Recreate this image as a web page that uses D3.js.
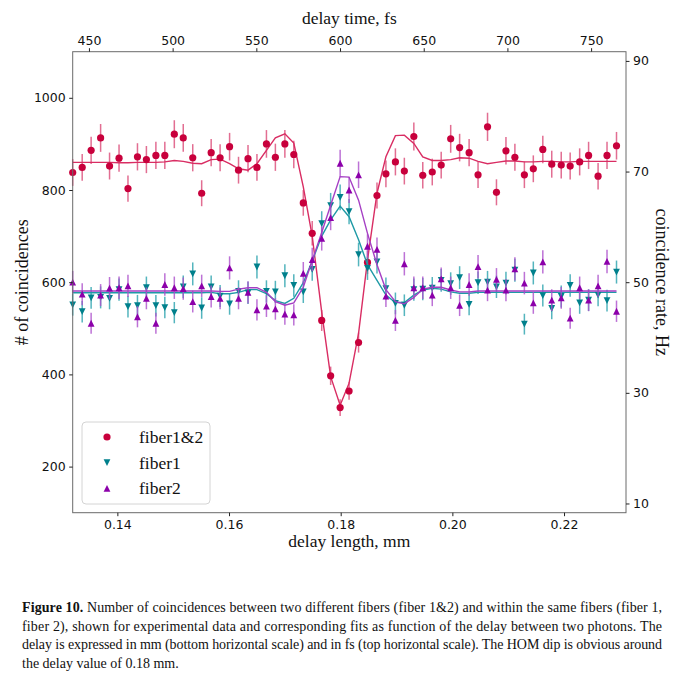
<!DOCTYPE html>
<html>
<head>
<meta charset="utf-8">
<script src="https://cdn.jsdelivr.net/npm/d3@7"></script>
<style>
body { margin: 0; background: #fff; }
svg text { fill: #111; }
</style>
</head>
<body>
<div id="chart"></div>
<script>
// delay length in mm (bottom axis)
const delayMm = [0.1320, 0.1337, 0.1353, 0.1370, 0.1386, 0.1403, 0.1419, 0.1436, 0.1452, 0.1469,
  0.1485, 0.1502, 0.1518, 0.1535, 0.1551, 0.1568, 0.1584, 0.1601, 0.1617, 0.1634,
  0.1650, 0.1667, 0.1683, 0.1700, 0.1716, 0.1733, 0.1749, 0.1766, 0.1782, 0.1799,
  0.1815, 0.1832, 0.1848, 0.1865, 0.1881, 0.1898, 0.1914, 0.1931, 0.1947, 0.1964,
  0.1980, 0.1997, 0.2013, 0.2030, 0.2046, 0.2063, 0.2079, 0.2096, 0.2112, 0.2129,
  0.2145, 0.2162, 0.2178, 0.2195, 0.2211, 0.2228, 0.2244, 0.2261, 0.2277, 0.2294];

// measured coincidences
const fiber12 = [838, 849, 886, 913, 852, 869, 803, 872, 866, 875, 875, 921, 913, 870, 793, 881, 870, 894, 843, 868,
  849, 900, 871, 900, 877, 772, 706, 517, 397, 328, 364, 469, 643, 788, 835, 861, 841, 916, 832, 839,
  854, 911, 892, 881, 833, 937, 795, 885, 871, 833, 846, 888, 856, 854, 852, 861, 875, 830, 875, 896];
const fiber1 = [551, 536, 566, 567, 565, 584, 547, 549, 588, 549, 545, 534, 590, 618, 544, 590, 570, 553, 580, 577,
  633, 580, 579, 614, 593, 579, 628, 727, 766, 784, 753, 660, 630, 644, 586, 554, 550, 584, 585, 587,
  604, 597, 610, 552, 599, 600, 590, 598, 626, 509, 620, 571, 543, 569, 593, 555, 561, 572, 560, 622];
const fiber2 = [600, 574, 511, 572, 587, 588, 592, 525, 565, 511, 595, 588, 586, 558, 592, 569, 565, 631, 565, 578,
  540, 548, 542, 531, 529, 619, 649, 695, 740, 858, 800, 833, 678, 671, 570, 517, 640, 588, 588, 572,
  607, 588, 550, 595, 634, 583, 606, 583, 629, 598, 555, 644, 561, 566, 522, 588, 561, 592, 645, 537];

// fitted curves
const fit12 = [860, 860, 860, 860, 860, 859, 859, 860, 860, 860, 861, 864, 862, 858, 857, 866, 867, 857, 846, 843,
  857, 886, 913, 922, 902, 807, 700, 535, 395, 333, 381, 489, 648, 793, 872, 918, 919, 901, 872, 864,
  864, 866, 870, 869, 862, 857, 860, 863, 863, 861, 861, 862, 862, 861, 861, 862, 862, 862, 862, 862];
const fit1 = [577, 577, 577, 577, 577, 577, 577, 577, 577, 577, 577, 577, 577, 577, 577, 578, 575, 575, 578, 584,
  584, 575, 560, 554, 565, 599, 646, 700, 735, 765, 742, 692, 638, 604, 572, 556, 556, 572, 583, 587,
  585, 579, 576, 576, 578, 578, 578, 578, 578, 578, 578, 578, 578, 578, 578, 578, 578, 578, 578, 578];
const fit2 = [581, 581, 581, 581, 581, 581, 581, 581, 581, 581, 581, 581, 581, 581, 581, 581, 580, 580, 585, 588,
  588, 578, 558, 550, 555, 589, 647, 708, 767, 829, 828, 778, 706, 638, 584, 558, 553, 567, 585, 589,
  589, 583, 579, 579, 581, 581, 581, 581, 581, 581, 581, 581, 581, 581, 581, 581, 581, 581, 581, 581];

const bottomTicks = [0.14, 0.16, 0.18, 0.20, 0.22];
const topTicks = [450, 500, 550, 600, 650, 700, 750];
const leftTicks = [200, 400, 600, 800, 1000];
const rightTicks = [10, 30, 50, 70, 90];
const seriesNames = ["fiber1&2", "fiber1", "fiber2"];

const captionLines = [
  ["Figure 10.", " Number of coincidences between two different fibers (fiber 1&2) and within the same fibers (fiber 1,"],
  ["", "fiber 2), shown for experimental data and corresponding fits as function of the delay between two photons. The"],
  ["", "delay is expressed in mm (bottom horizontal scale) and in fs (top horizontal scale). The HOM dip is obvious around"],
  ["", "the delay value of 0.18 mm."]
];

const C_MM_PER_FS = 2.998e-4;   // light travel, mm per fs
const RATE_DIV = 12;            // counts -> Hz

const width = 680, height = 675;
const plot = {left: 72.7, right: 626, top: 51.7, bottom: 512.7};
const SERIF = "'Liberation Serif', 'DejaVu Serif', serif";
const SANS = "'DejaVu Sans', sans-serif";

const svg = d3.select("#chart").append("svg")
  .attr("width", width).attr("height", height);

const x = d3.scaleLinear().domain([0.1320, 0.2311]).range([plot.left, plot.right]);
const xTop = d3.scaleLinear().domain(x.domain().map(d => d / C_MM_PER_FS)).range([plot.left, plot.right]);
const y = d3.scaleLinear().domain([100, 1100]).range([plot.bottom, plot.top]);
const yRight = d3.scaleLinear().domain(y.domain().map(d => d / RATE_DIV)).range([plot.bottom, plot.top]);

const series = [
  {name: seriesNames[0], values: fiber12, fit: fit12, marker: "circle", color: "#c8003c", line: "#d92d63", bar: "#dc4a78"},
  {name: seriesNames[1], values: fiber1, fit: fit1, marker: "down", color: "#00808c", line: "#1f9aa6", bar: "#2aa3ae"},
  {name: seriesNames[2], values: fiber2, fit: fit2, marker: "up", color: "#8c00aa", line: "#a53fc4", bar: "#ad50cc"}
];

function markerPath(type) {
  const s = 3.4;
  if (type === "up") return `M0,${-s}L${s},${s}L${-s},${s}Z`;
  if (type === "down") return `M0,${s}L${s},${-s}L${-s},${-s}Z`;
  return null;
}

function drawMarker(g, type, color) {
  if (type === "circle") g.append("circle").attr("r", 3.6).attr("fill", color);
  else g.append("path").attr("d", markerPath(type)).attr("fill", color);
}

const plotArea = svg.append("g");

series.forEach(s => {
  const pts = s.values.map((v, i) => ({x: delayMm[i], v: v, err: Math.sqrt(v)}));
  const grp = plotArea.append("g");
  grp.selectAll("line.err").data(pts).enter().append("line")
    .attr("x1", d => x(d.x)).attr("x2", d => x(d.x))
    .attr("y1", d => y(d.v - d.err)).attr("y2", d => y(d.v + d.err))
    .attr("stroke", s.bar).attr("stroke-width", 1.5).attr("opacity", 0.8);

  const line = d3.line().x((d, i) => x(delayMm[i])).y(d => y(d));
  grp.append("path").datum(s.fit)
    .attr("d", line).attr("fill", "none")
    .attr("stroke", s.line).attr("stroke-width", 1.4);

  grp.selectAll("g.mk").data(pts).enter().append("g")
    .attr("transform", d => `translate(${x(d.x)},${y(d.v)})`)
    .each(function() { drawMarker(d3.select(this), s.marker, s.color); });
});

// spines
svg.append("rect")
  .attr("x", plot.left).attr("y", plot.top)
  .attr("width", plot.right - plot.left).attr("height", plot.bottom - plot.top)
  .attr("fill", "none").attr("stroke", "#6a6a6a").attr("stroke-width", 1);

function styleAxis(g) {
  g.select(".domain").remove();
  g.selectAll(".tick line").attr("stroke", "#222");
  g.selectAll(".tick text").attr("font-family", SANS).attr("font-size", 12.5).attr("fill", "#222");
}

svg.append("g").attr("transform", `translate(0,${plot.bottom})`)
  .call(d3.axisBottom(x).tickValues(bottomTicks).tickFormat(d3.format(".2f")).tickSize(3.5).tickPadding(3.5))
  .call(styleAxis);
svg.append("g").attr("transform", `translate(0,${plot.top})`)
  .call(d3.axisTop(xTop).tickValues(topTicks).tickFormat(d3.format("d")).tickSize(3.5).tickPadding(3))
  .call(styleAxis);
svg.append("g").attr("transform", `translate(${plot.left},0)`)
  .call(d3.axisLeft(y).tickValues(leftTicks).tickFormat(d3.format("d")).tickSize(3.5).tickPadding(3.5))
  .call(styleAxis);
svg.append("g").attr("transform", `translate(${plot.right},0)`)
  .call(d3.axisRight(yRight).tickValues(rightTicks).tickFormat(d3.format("d")).tickSize(3.5).tickPadding(3.5))
  .call(styleAxis);

// axis titles
const midX = (plot.left + plot.right) / 2, midY = (plot.top + plot.bottom) / 2;
svg.append("text").attr("x", midX).attr("y", 547).attr("text-anchor", "middle")
  .attr("font-family", SERIF).attr("font-size", 17.5).text("delay length, mm");
svg.append("text").attr("x", midX).attr("y", 24).attr("text-anchor", "middle")
  .attr("font-family", SERIF).attr("font-size", 17.5).text("delay time, fs");
svg.append("text").attr("transform", `translate(28,${midY}) rotate(-90)`).attr("text-anchor", "middle")
  .attr("font-family", SERIF).attr("font-size", 18).text("# of coincidences");
svg.append("text").attr("transform", `translate(656,${midY}) rotate(90)`).attr("text-anchor", "middle")
  .attr("font-family", SERIF).attr("font-size", 18).text("coincidence rate, Hz");

// legend
const legend = svg.append("g").attr("transform", "translate(82,422)");
legend.append("rect").attr("width", 128).attr("height", 82).attr("rx", 4)
  .attr("fill", "#fff").attr("fill-opacity", 0.85).attr("stroke", "#d4d4d4");
series.forEach((s, i) => {
  const row = legend.append("g").attr("transform", `translate(25,${15 + i * 25.7})`);
  drawMarker(row, s.marker, s.color);
  row.append("text").attr("x", 32).attr("y", 6)
    .attr("font-family", SERIF).attr("font-size", 17.5).text(s.name);
});

// caption
const caption = svg.append("g");
captionLines.forEach((ln, i) => {
  const t = caption.append("text").attr("x", 22).attr("y", 612 + i * 18.7)
    .attr("font-family", SERIF).attr("font-size", 14);
  if (i < 3) t.attr("textLength", 640).attr("lengthAdjust", "spacing");
  if (ln[0]) t.append("tspan").attr("font-weight", "bold").text(ln[0]);
  t.append("tspan").text(ln[1]);
});
</script>
</body>
</html>
